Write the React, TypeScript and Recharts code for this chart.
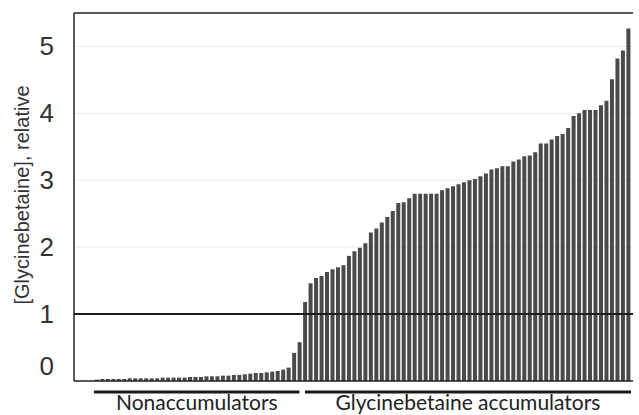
import React from 'react';
import { BarChart, Bar, XAxis, YAxis, CartesianGrid, ReferenceLine } from 'recharts';

// relative glycinebetaine level per line, sorted ascending
const nonaccumulators = [
    0.02, 0.03, 0.03, 0.03, 0.03, 0.03, 0.04, 0.04, 0.04, 0.04,
    0.04, 0.04, 0.05, 0.05, 0.05, 0.05, 0.05, 0.06, 0.06, 0.06,
    0.07, 0.07, 0.07, 0.08, 0.08, 0.09, 0.09, 0.1, 0.11, 0.12,
    0.12, 0.13, 0.14, 0.15, 0.17, 0.2, 0.42, 0.58,
];

const accumulators = [
    1.18, 1.46, 1.54, 1.57, 1.63, 1.67, 1.7, 1.73, 1.87, 1.94,
    1.99, 2.06, 2.22, 2.28, 2.37, 2.45, 2.54, 2.66, 2.67, 2.73,
    2.8, 2.8, 2.8, 2.8, 2.8, 2.85, 2.88, 2.91, 2.94, 2.97,
    3.0, 3.02, 3.06, 3.1, 3.16, 3.18, 3.21, 3.21, 3.28, 3.31,
    3.36, 3.37, 3.42, 3.55, 3.55, 3.61, 3.66, 3.69, 3.78, 3.96,
    4.0, 4.05, 4.05, 4.05, 4.12, 4.19, 4.51, 4.82, 4.94, 5.27,
];

const groupLabels = ['Nonaccumulators', 'Glycinebetaine accumulators'];
const yTicks = [0, 1, 2, 3, 4, 5];

const data = [
    ...nonaccumulators.map((value, i) => ({ sample: `N${i + 1}`, value })),
    ...accumulators.map((value, i) => ({ sample: `A${i + 1}`, value })),
];

const WIDTH = 639;
const HEIGHT = 415;
const Y_AXIS_WIDTH = 74;
const MARGIN_RIGHT = 6;
const PAD_LEFT = 20;
const PAD_RIGHT = 2;
const BAND = (WIDTH - Y_AXIS_WIDTH - MARGIN_RIGHT - PAD_LEFT - PAD_RIGHT) / data.length;

const nCount = nonaccumulators.length;
const aCount = accumulators.length;

// each group gets one underline starting at its first sample, label centred under it
const GroupTick = (props: any) => {
    const { x, y, index } = props;
    let x1: number;
    let x2: number;
    let label: string;
    if (index === 0) {
        x1 = x - BAND / 2;
        x2 = x + (nCount - 1) * BAND;
        label = groupLabels[0];
    } else if (index === nCount) {
        x1 = x;
        x2 = x + (aCount - 1) * BAND + BAND / 2;
        label = groupLabels[1];
    } else {
        return <g />;
    }
    const ly = y + 11;
    return (
        <g>
            <line x1={x1} x2={x2} y1={ly} y2={ly} stroke="#1a1a1a" strokeWidth={3} />
            <text x={(x1 + x2) / 2} y={y + 29} textAnchor="middle" fontFamily="Lato" fontSize={21} fill="#222">
                {label}
            </text>
        </g>
    );
};

const ValueTick = (props: any) => {
    const { x, y, payload } = props;
    const shift = payload.value === 0 ? -15 : 0;
    return (
        <text x={x - 12} y={y + shift} dy={9} textAnchor="end" fontFamily="Liberation Sans, Arial, sans-serif" fontSize={26} fill="#333">
            {payload.value}
        </text>
    );
};

const App = () => {
    return (
        <div style={{ position: 'absolute', left: 0, top: 0, width: WIDTH, height: HEIGHT, background: '#fff' }}>
            <BarChart
                width={WIDTH}
                height={HEIGHT}
                data={data}
                margin={{ top: 13, right: MARGIN_RIGHT, left: 0, bottom: 0 }}
                barCategoryGap="16%"
            >
                <CartesianGrid vertical={false} stroke="#ececec" />
                <XAxis
                    dataKey="sample"
                    interval={0}
                    height={34}
                    padding={{ left: PAD_LEFT, right: PAD_RIGHT }}
                    tickLine={false}
                    tickSize={0}
                    tickMargin={0}
                    axisLine={{ stroke: '#222', strokeWidth: 1.5 }}
                    tick={<GroupTick />}
                />
                <YAxis
                    width={Y_AXIS_WIDTH}
                    domain={[0, 5.5]}
                    ticks={yTicks}
                    tickLine={false}
                    axisLine={{ stroke: '#222', strokeWidth: 1.5 }}
                    tick={<ValueTick />}
                    label={{
                        content: ({ viewBox }: any) => {
                            const cx = viewBox.x + 22;
                            const cy = viewBox.y + viewBox.height / 2 - 2;
                            return (
                                <text
                                    x={cx}
                                    y={cy}
                                    transform={`rotate(-90, ${cx}, ${cy})`}
                                    textAnchor="middle"
                                    dominantBaseline="central"
                                    fontFamily="Liberation Sans, Arial, sans-serif"
                                    fontSize={20}
                                    fill="#333"
                                >
                                    [Glycinebetaine], relative
                                </text>
                            );
                        },
                    }}
                />
                <Bar dataKey="value" fill="#4a4a4a" isAnimationActive={false} />
                <ReferenceLine y={1} stroke="#1e1e1e" strokeWidth={2} />
                <ReferenceLine y={5.5} stroke="#222" strokeWidth={1.5} />
            </BarChart>
        </div>
    );
};

export default App;
